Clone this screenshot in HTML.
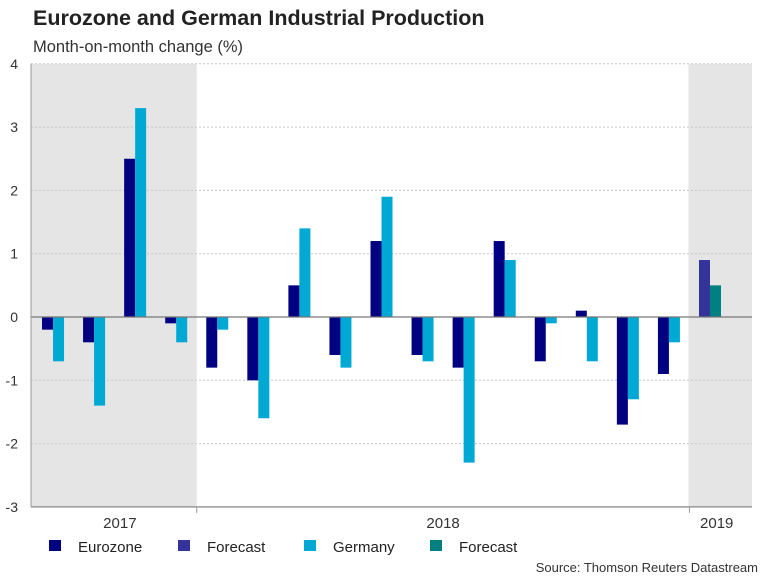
<!DOCTYPE html>
<html><head><meta charset="utf-8"><style>
body{margin:0;background:#fff;font-family:"Liberation Sans",Arial,sans-serif;}
svg text{font-family:"Liberation Sans",Arial,sans-serif;}
</style></head><body>
<svg id="c" width="768" height="576" xmlns="http://www.w3.org/2000/svg">
<text x="33" y="25" font-size="21.5" font-weight="bold" fill="#222">Eurozone and German Industrial Production</text>
<text x="33" y="52" font-size="16.5" fill="#333">Month-on-month change (%)</text>
<g id="plot"></g>
<text x="758" y="572" font-size="13" fill="#333" text-anchor="end">Source: Thomson Reuters Datastream</text>
</svg>
<script>
const yTicks=[4,3,2,1,0,-1,-2,-3];
const eurozone=[-0.2,-0.4,2.5,-0.1,-0.8,-1.0,0.5,-0.6,1.2,-0.6,-0.8,1.2,-0.7,0.1,-1.7,-0.9,null];
const germany=[-0.7,-1.4,3.3,-0.4,-0.2,-1.6,1.4,-0.8,1.9,-0.7,-2.3,0.9,-0.1,-0.7,-1.3,-0.4,null];
const euroForecast=[null,null,null,null,null,null,null,null,null,null,null,null,null,null,null,null,0.9];
const gerForecast=[null,null,null,null,null,null,null,null,null,null,null,null,null,null,null,null,0.5];
const yearLabels=["2017","2018","2019"];
const yearStart=[0,4,16];
const yearEnd=[4,16,17.5];
const NS="http://www.w3.org/2000/svg";
const g=document.getElementById('plot');
const L=31,R=752,bandX0=32.5,step=41.06,bw=11;
const yS=v=>317-v*63.3;
const xS=i=>bandX0+step*i;
function mk(t,a){const e=document.createElementNS(NS,t);for(const k in a)e.setAttribute(k,a[k]);g.appendChild(e);return e;}
let s=mk('rect',{x:L,y:yS(4),width:xS(4)-L,height:yS(-3)-yS(4),fill:'#e5e5e5'});


s=mk('rect',{x:xS(16)-1,y:yS(4),width:R-xS(16)+1,height:yS(-3)-yS(4),fill:'#e5e5e5'});


yTicks.forEach(v=>{
 if(v!==0&&v!==-3){const l=mk('line',{x1:L,x2:R,y1:yS(v),y2:yS(v),stroke:'#c8c8c8','stroke-dasharray':'2,2'});
 
 }
 const t=mk('text',{x:18,y:yS(v)+5,'font-size':14,fill:'#333','text-anchor':'end'});t.textContent=v;
 
 
});
function bars(arr,off,col,name){arr.forEach((v,i)=>{if(v===null)return;const c=xS(i)+step/2;
 const r=mk('rect',{x:c+off,y:Math.min(yS(v),yS(0)),width:bw,height:Math.abs(yS(v)-yS(0)),fill:col});
 
 });}
bars(eurozone,-bw,'#000080','bar-eurozone');
bars(germany,0,'#00a9d4','bar-germany');
bars(euroForecast,-bw,'#333399','bar-eurozone-forecast');
bars(gerForecast,0,'#008080','bar-germany-forecast');
let a=mk('line',{x1:L,x2:R,y1:yS(0),y2:yS(0),stroke:'#777','stroke-width':1.2});

a=mk('line',{x1:L,x2:L,y1:yS(4),y2:yS(-3),stroke:'#999'});

a=mk('line',{x1:L,x2:R,y1:yS(-3),y2:yS(-3),stroke:'#999','stroke-width':1.5});

[4,16].forEach(i=>{const t=mk('line',{x1:xS(i),x2:xS(i),y1:yS(-3),y2:yS(-3)+6,stroke:'#999'});
 });
yearLabels.forEach((y,k)=>{const x0=k===0?L:xS(yearStart[k]);const x1=k===2?R:xS(yearEnd[k]);
 const t=mk('text',{x:(x0+x1)/2+(k===0?6:0)-(k===2?4:0),y:528,'font-size':15,fill:'#333','text-anchor':'middle'});t.textContent=y;
 });
const leg=[["Eurozone","#000080",49],["Forecast","#333399",178],["Germany","#00a9d4",304],["Forecast","#008080",430]];
leg.forEach(([n,c,x])=>{const r=mk('rect',{x:x,y:540,width:12,height:11,fill:c});
 
 const t=mk('text',{x:x+29,y:552,'font-size':15,fill:'#222'});t.textContent=n;
 });
</script>
</body></html>
